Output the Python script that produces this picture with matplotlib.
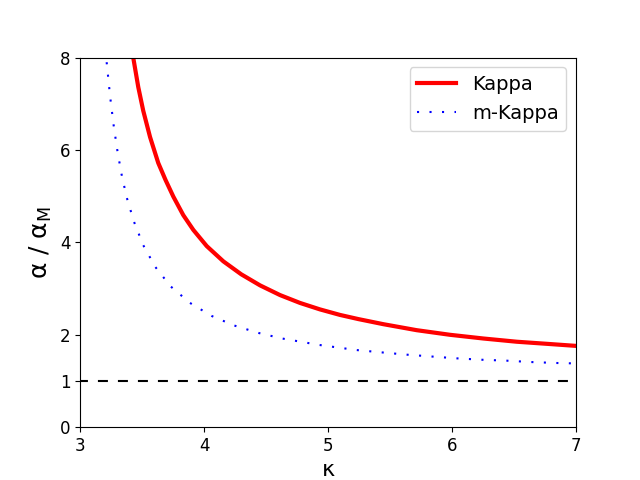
import matplotlib
matplotlib.use('Agg')
import matplotlib.pyplot as plt

# values
kappa_k = [3.430, 3.470, 3.510, 3.565, 3.631, 3.690, 3.753, 3.833, 3.914, 4.022,
           4.156, 4.300, 4.452, 4.613, 4.774, 4.935, 5.097, 5.245, 5.446, 5.715,
           5.984, 6.252, 6.522, 6.790, 7.0]
alpha_k = [7.99, 7.36, 6.85, 6.28, 5.72, 5.35, 4.99, 4.59, 4.27, 3.92,
           3.59, 3.31, 3.07, 2.86, 2.69, 2.55, 2.43, 2.34, 2.23, 2.10,
           2.00, 1.92, 1.85, 1.80, 1.76]

kappa_m = [3.215, 3.242, 3.27, 3.30, 3.333, 3.376, 3.435, 3.51, 3.607, 3.73,
           3.887, 4.06, 4.245, 4.44, 4.63, 4.93, 5.23, 5.43, 5.635, 5.836,
           6.04, 6.24, 6.44, 6.64, 6.84, 7.0]
alpha_m = [7.9, 7.18, 6.56, 6.01, 5.50, 4.98, 4.45, 3.94, 3.47, 3.05,
           2.69, 2.41, 2.20, 2.04, 1.92, 1.78, 1.67, 1.62, 1.57, 1.53,
           1.49, 1.46, 1.44, 1.41, 1.39, 1.38]

maxwell = 1.0
xticks = [3, 4, 5, 6, 7]
yticks = [0, 1, 2, 4, 6, 8]

plt.figure(figsize=(6.4, 4.8), dpi=100)
plt.plot(kappa_k, alpha_k, color='red', linewidth=3, label='Kappa')
plt.plot(kappa_m, alpha_m, color='blue', linestyle=(0, (1, 5)), linewidth=1.5,
         label='m-Kappa')
plt.axhline(maxwell, color='black', linestyle=(1, (4.8, 4.8)), linewidth=1.5)
plt.xlim(3, 7)
plt.ylim(0, 8)
plt.xticks(xticks)
plt.yticks(yticks)
plt.tick_params(labelsize=12)
plt.xlabel('κ', fontsize=16)
plt.ylabel(r'α / α$_{\rm M}$', fontsize=18)
plt.legend(loc='upper right', fontsize=14)
plt.savefig('out.png')
